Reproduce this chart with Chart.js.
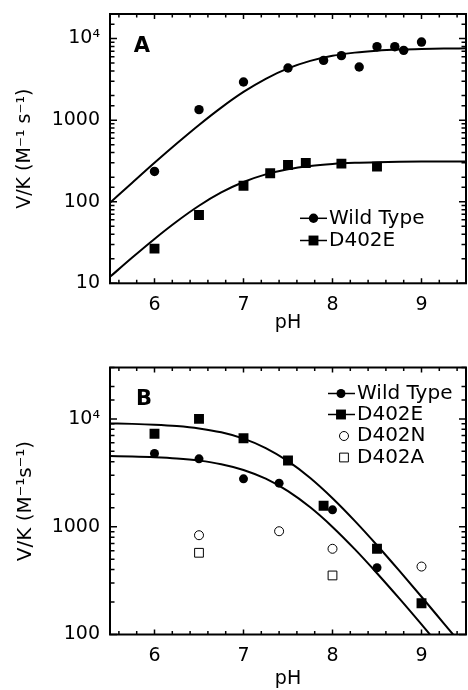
<!DOCTYPE html>
<html>
<head>
<meta charset="utf-8">
<script src="https://cdn.jsdelivr.net/npm/chart.js@4.4.1/dist/chart.umd.min.js"></script>
<style>
  html, body { margin: 0; padding: 0; background: #fff; overflow: hidden; width: 468px; height: 690px; }
  .panel { position: absolute; left: 0; width: 468px; height: 345px; }
  .panel canvas { display: block; }
  #panelA { top: 0; }
  #panelB { top: 345px; }
</style>
</head>
<body>
<div class="panel" id="panelA"><canvas id="chartA" width="468" height="345"></canvas></div>
<div class="panel" id="panelB"><canvas id="chartB" width="468" height="345"></canvas></div>
<script>
// pH grid the fitted curves are read on
const phCurve = [5.5, 5.75, 6, 6.25, 6.5, 6.75, 7, 7.25, 7.5, 7.75, 8, 8.25, 8.5, 8.75, 9, 9.25, 9.5];

// panel A - fitted curves
const fitWtA = [97, 171, 300, 517, 873, 1425, 2217, 3214, 4307, 5324, 6144, 6722, 7099, 7330, 7467, 7546, 7591];
const fitEA = [12.0, 20.7, 35.0, 57.2, 89.2, 129.8, 174.5, 216.3, 250.2, 274.3, 290, 299.6, 305.3, 308.6, 310.5, 311.6, 312.2];

// panel A - measured points
const phWtA = [6, 6.5, 7, 7.5, 7.9, 8.1, 8.3, 8.5, 8.7, 8.8, 9];
const wtA = [235, 1345, 2930, 4350, 5400, 6170, 4480, 7950, 7950, 7170, 9060];
const phEA = [6, 6.5, 7, 7.3, 7.5, 7.7, 8.1, 8.5];
const eA = [26.6, 68.7, 157, 223, 282, 298, 293, 269];

// panel B - fitted curves
const fitWtB = [4519, 4480, 4412, 4296, 4104, 3803, 3363, 2790, 2140, 1514, 996, 619, 370, 216, 124, 70.5, 40];
const fitEB = [9085, 8997, 8845, 8588, 8165, 7508, 6567, 5371, 4056, 2827, 1836, 1132, 673, 391, 224, 127, 72];

// panel B - measured points
const phWtB = [6, 6.5, 7, 7.4, 8, 8.5];
const wtB = [4775, 4265, 2780, 2535, 1435, 416];
const phEB = [6, 6.5, 7, 7.5, 7.9, 8.5, 9];
const eB = [7280, 10020, 6620, 4110, 1563, 624, 195];
const phNB = [6.5, 7.4, 8, 9];
const nB = [834, 908, 624, 427];
const phAB = [6.5, 8];
const aB = [573, 353];

// ticks: x marks every 0.2, labels on whole pH; y labels on decades
const xTickVals = [5.6, 5.8, 6, 6.2, 6.4, 6.6, 6.8, 7, 7.2, 7.4, 7.6, 7.8, 8,
                   8.2, 8.4, 8.6, 8.8, 9, 9.2, 9.4];
const xLabels = [6, 7, 8, 9];
const yLabelsA = [10, 100, 1000, 10000];
const yLabelsB = [100, 1000, 10000];

Chart.defaults.font.family = '"DejaVu Sans"';
Chart.defaults.font.size = 19;
Chart.defaults.color = '#000';

const pts = (xs, ys) => xs.map((x, i) => ({x, y: ys[i]}));
const isInt = v => Math.abs(v - Math.round(v)) < 1e-6;
const isDecade = v => isInt(Math.log10(v));

function curve(data) {
    return { label: '', data, showLine: true, borderColor: '#000', borderWidth: 2,
        pointRadius: 0, cubicInterpolationMode: 'monotone', fill: false };
}

function marks(label, data, style, radius, filled) {
    return { label, data, showLine: false, pointStyle: style, pointRadius: radius,
        pointHoverRadius: radius, backgroundColor: filled ? '#000' : '#fff',
        borderColor: '#000', borderWidth: filled ? 0 : 1 };
}

// no extra room for the outer tick labels, the plot box is set by layout padding
function noPad(s) {
    s.paddingLeft = 0; s.paddingRight = 0; s.paddingTop = 0; s.paddingBottom = 0;
}

// frame with inward ticks on every side, panel letter and the legend
const deco = {
    id: 'deco',
    afterDatasetsDraw(chart, args, opts) {
        const { ctx, chartArea: a, scales: { x, y } } = chart;
        ctx.save();
        ctx.strokeStyle = '#000';
        ctx.lineWidth = 1.5;
        ctx.beginPath();
        x.ticks.forEach(t => {
            const px = x.getPixelForValue(t.value);
            const len = isInt(t.value) ? 5 : 3.5;
            ctx.moveTo(px, a.bottom); ctx.lineTo(px, a.bottom - len);
            ctx.moveTo(px, a.top); ctx.lineTo(px, a.top + len);
        });
        y.ticks.forEach(t => {
            const py = y.getPixelForValue(t.value);
            const len = isDecade(t.value) ? 7 : 4.5;
            ctx.moveTo(a.left, py); ctx.lineTo(a.left + len, py);
            ctx.moveTo(a.right, py); ctx.lineTo(a.right - len, py);
        });
        ctx.stroke();
        ctx.lineWidth = 2;
        ctx.strokeRect(a.left, a.top, a.right - a.left, a.bottom - a.top);

        ctx.fillStyle = '#000';
        ctx.font = 'bold 21px "DejaVu Sans"';
        ctx.textAlign = 'center';
        ctx.textBaseline = 'middle';
        ctx.fillText(opts.letter, opts.letterX, opts.letterY);

        ctx.font = '20px "DejaVu Sans"';
        ctx.textAlign = 'left';
        opts.rows.forEach((row, i) => {
            const ds = chart.data.datasets[row.ds];
            const yy = opts.rowY[i];
            ctx.strokeStyle = '#000';
            if (row.line) {
                ctx.lineWidth = 1.5;
                ctx.beginPath();
                ctx.moveTo(opts.lineX[0], yy);
                ctx.lineTo(opts.lineX[1], yy);
                ctx.stroke();
            }
            ctx.fillStyle = ds.backgroundColor;
            ctx.lineWidth = ds.borderWidth || 1;
            Chart.helpers.drawPoint(ctx, { pointStyle: ds.pointStyle, radius: ds.pointRadius,
                borderWidth: ds.borderWidth, rotation: 0 }, row.mx, yy);
            ctx.fillStyle = '#000';
            ctx.fillText(ds.label, opts.textX, yy);
        });
        ctx.restore();
    }
};

function makeOptions(c) {
    return {
        responsive: false,
        animation: false,
        events: [],
        // autoPadding off, otherwise the point radius adds room on the right
        layout: { autoPadding: false, padding: { top: c.top, right: 2, left: 0, bottom: 0 } },
        plugins: { legend: { display: false }, tooltip: { enabled: false }, deco: c.deco },
        scales: {
            x: {
                type: 'linear', min: 5.5, max: 9.5,
                grid: { display: false, drawTicks: false },
                border: { display: false },
                afterBuildTicks: s => { s.ticks = xTickVals.map(v => ({ value: v })); },
                ticks: {
                    autoSkip: false, maxRotation: 0, padding: 10,
                    callback: v => xLabels.includes(Math.round(v * 10) / 10) ? String(Math.round(v)) : ''
                },
                title: { display: true, text: 'pH', padding: { top: 0, bottom: c.xTitlePad } },
                afterFit: s => { s.height = c.xHeight; noPad(s); }
            },
            y: {
                type: 'logarithmic', min: c.yMin, max: c.yMax,
                grid: { display: false, drawTicks: false },
                border: { display: false },
                ticks: {
                    autoSkip: false, padding: 10,
                    callback: v => c.yLabels.includes(v) ? (v === 10000 ? '10\u2074' : String(v)) : ''
                },
                title: { display: true, text: c.yTitle, font: { size: c.yTitleSize },
                    padding: { top: 14, bottom: 0 } },
                afterFit: s => { s.width = 110; noPad(s); }
            }
        }
    };
}

new Chart(document.getElementById('chartA'), {
    type: 'scatter',
    data: {
        datasets: [
            curve(pts(phCurve, fitWtA)),
            curve(pts(phCurve, fitEA)),
            marks('Wild Type', pts(phWtA, wtA), 'circle', 4.7, true),
            marks('D402E', pts(phEA, eA), 'rect', 7, true)
        ]
    },
    options: makeOptions({
        top: 14, xHeight: 61.7, xTitlePad: 10.6, yMin: 10, yMax: 20000,
        yLabels: yLabelsA, yTitle: 'V/K (M\u207B\u00B9 s\u207B\u00B9)', yTitleSize: 19,
        deco: {
            letter: 'A', letterX: 142, letterY: 47,
            lineX: [300, 327], textX: 329, rowY: [218.3, 240.5],
            rows: [{ ds: 2, line: true, mx: 313.5 }, { ds: 3, line: true, mx: 313.5 }]
        }
    }),
    plugins: [deco]
});

new Chart(document.getElementById('chartB'), {
    type: 'scatter',
    data: {
        datasets: [
            curve(pts(phCurve, fitWtB)),
            curve(pts(phCurve, fitEB)),
            marks('Wild Type', pts(phWtB, wtB), 'circle', 4.5, true),
            marks('D402E', pts(phEB, eB), 'rect', 7, true),
            marks('D402N', pts(phNB, nB), 'circle', 4.5, false),
            marks('D402A', pts(phAB, aB), 'rect', 6.2, false)
        ]
    },
    options: makeOptions({
        top: 22.5, xHeight: 55.5, xTitlePad: 0, yMin: 100, yMax: 30000,
        yLabels: yLabelsB, yTitle: 'V/K (M\u207B\u00B9s\u207B\u00B9)', yTitleSize: 20,
        deco: {
            letter: 'B', letterX: 144, letterY: 55,
            lineX: [328, 355], textX: 357, rowY: [48.5, 69.5, 91, 112.5],
            rows: [
                { ds: 2, line: true, mx: 341 }, { ds: 3, line: true, mx: 341 },
                { ds: 4, line: false, mx: 344 }, { ds: 5, line: false, mx: 344 }
            ]
        }
    }),
    plugins: [deco]
});
</script>
</body>
</html>
